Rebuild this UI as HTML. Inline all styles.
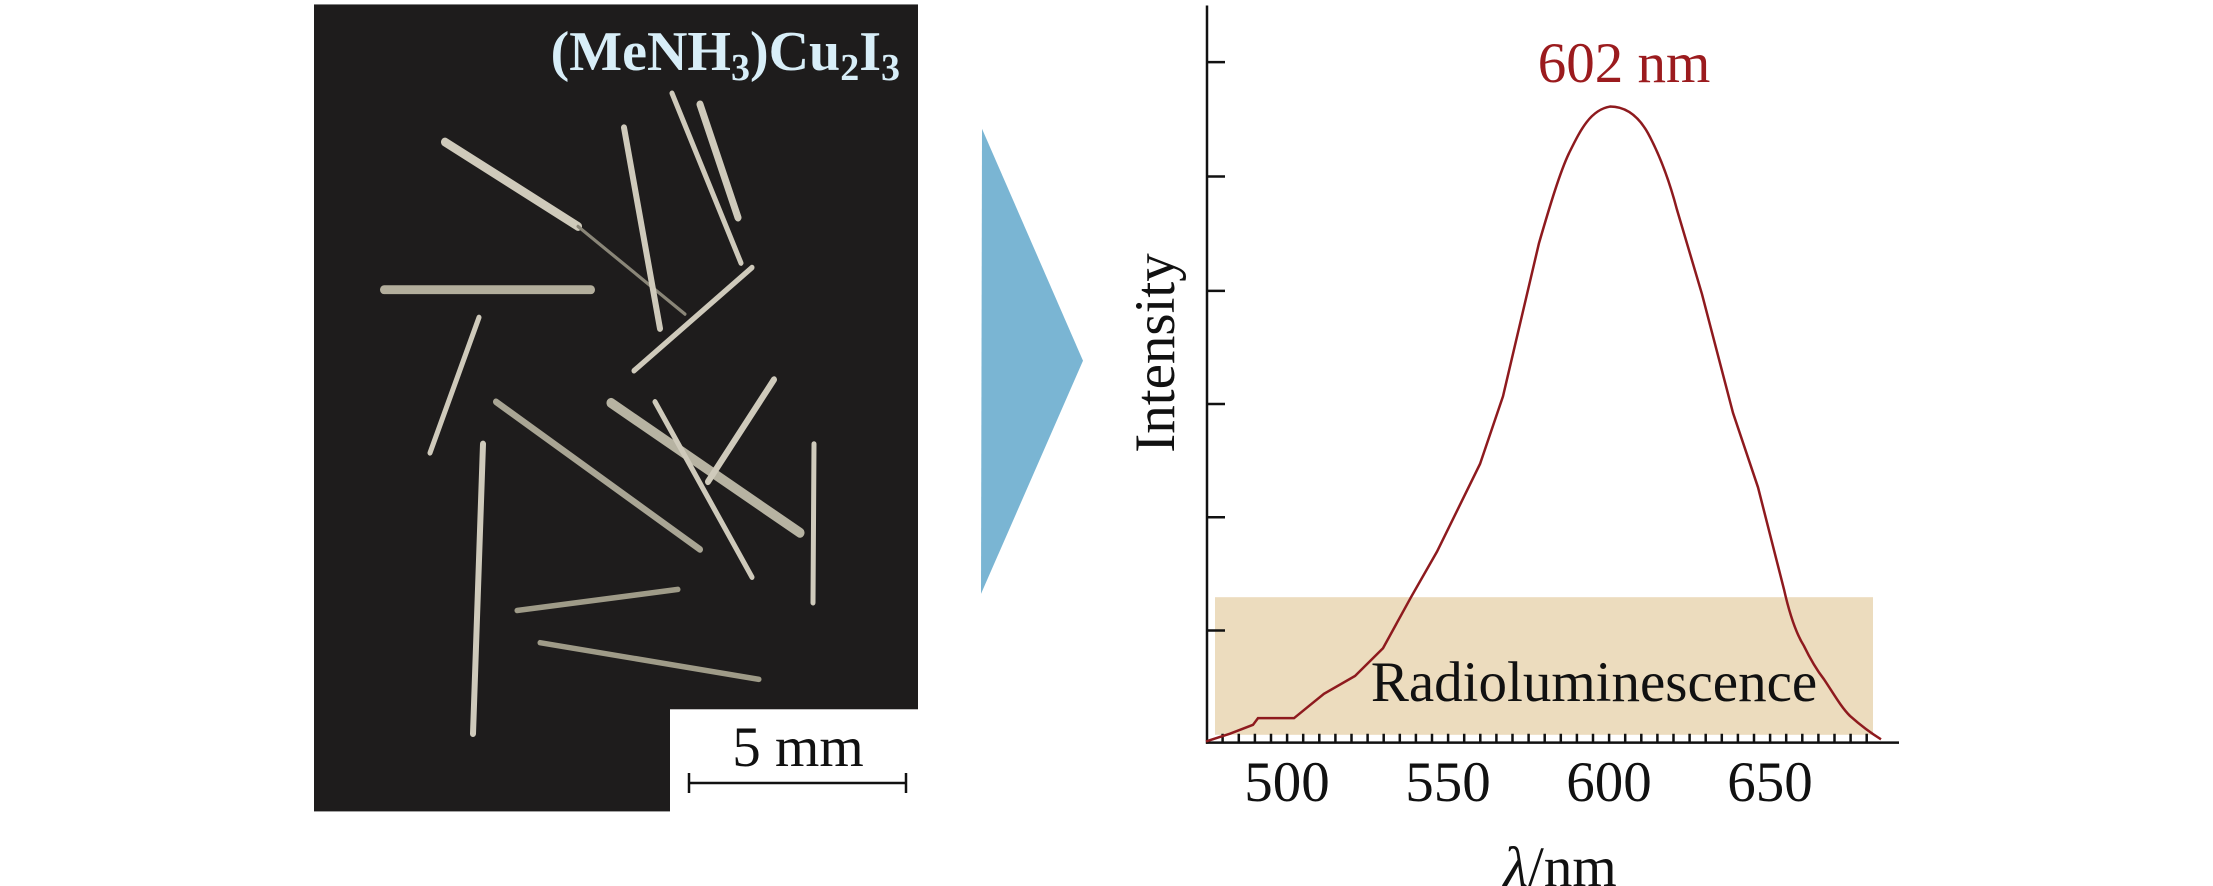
<!DOCTYPE html>
<html><head><meta charset="utf-8"><style>
html,body{margin:0;padding:0;background:#fff;}
svg{display:block;}
</style></head><body>
<svg width="2213" height="886" viewBox="0 0 2213 886" xmlns="http://www.w3.org/2000/svg">
<g transform="scale(1,1.11)">
<rect x="314" y="4" width="604" height="727" fill="#1e1c1c"/>
<rect x="670" y="639" width="250" height="94" fill="#fff"/>
<g stroke="#cfcabb" stroke-linecap="round">
<line x1="445" y1="128" x2="578" y2="204" stroke-width="8"/>
<line x1="578" y1="204" x2="685" y2="283" stroke-width="3" stroke="#8a8678"/>
<line x1="624" y1="115" x2="660" y2="296" stroke-width="6"/>
<line x1="672" y1="84" x2="741" y2="237" stroke-width="5"/>
<line x1="700" y1="94" x2="738" y2="196" stroke-width="7"/>
<line x1="384" y1="261" x2="591" y2="261" stroke-width="8" stroke="#b3ae9c"/>
<line x1="752" y1="241" x2="634" y2="334" stroke-width="5"/>
<line x1="479" y1="286" x2="430" y2="408" stroke-width="5"/>
<line x1="496" y1="362" x2="700" y2="495" stroke-width="6" stroke="#a9a594"/>
<line x1="611" y1="363" x2="800" y2="480" stroke-width="9" stroke="#b7b3a2"/>
<line x1="655" y1="362" x2="752" y2="520" stroke-width="5"/>
<line x1="774" y1="342" x2="708" y2="434" stroke-width="6"/>
<line x1="814" y1="400" x2="813" y2="543" stroke-width="5"/>
<line x1="483" y1="400" x2="473" y2="661" stroke-width="6"/>
<line x1="517" y1="550" x2="678" y2="531" stroke-width="5" stroke="#9f9b88"/>
<line x1="540" y1="579" x2="759" y2="612" stroke-width="5" stroke="#9f9b88"/>
</g>
<polygon points="982,116 1083,325 981,535" fill="#7ab5d3"/>
<rect x="1215" y="538" width="658" height="124" fill="#ecdcbe"/>
<g stroke="#111" stroke-width="2.5" fill="none">
<line x1="1207" y1="5" x2="1207" y2="670" vector-effect="non-scaling-stroke"/>
<line x1="1206" y1="669" x2="1899" y2="669" vector-effect="non-scaling-stroke"/>
<path vector-effect="non-scaling-stroke" d="M1207 56h18M1207 159h18M1207 262h18M1207 364h18M1207 466h18M1207 568h18"/>
<path vector-effect="non-scaling-stroke" d="M1222.6 669v-8M1238.8 669v-8M1254.9 669v-8M1271 669v-8M1287.1 669v-8M1303.2 669v-8M1319.3 669v-8M1335.4 669v-8M1351.5 669v-8M1367.6 669v-8M1383.7 669v-8M1399.8 669v-8M1415.9 669v-8M1432 669v-8M1448.1 669v-8M1464.2 669v-8M1480.3 669v-8M1496.4 669v-8M1512.5 669v-8M1528.6 669v-8M1544.7 669v-8M1560.8 669v-8M1576.9 669v-8M1593 669v-8M1609.1 669v-8M1625.2 669v-8M1641.3 669v-8M1657.4 669v-8M1673.5 669v-8M1689.6 669v-8M1705.7 669v-8M1721.8 669v-8M1737.9 669v-8M1754 669v-8M1770.1 669v-8M1786.2 669v-8M1802.3 669v-8M1818.4 669v-8M1834.5 669v-8M1850.6 669v-8M1866.7 669v-8"/>
</g>
<path vector-effect="non-scaling-stroke" d="M1206 668 L1230 661 L1253 653 L1258 647 L1294 647 L1309 636 L1324 625 L1355 609 L1383 584 L1411 538 L1437 497 L1480 418 L1503 357 L1539 219 C1550 185 1560 155 1569 138 C1580 118 1590 99 1610 96 C1625 96 1638 104 1648 120 C1660 140 1670 165 1677 189 L1702 265 L1733 372 L1758 439 L1784 531 C1790 555 1797 572 1804 582 C1811 595 1818 605 1824 612 C1833 624 1841 637 1850 645 C1860 653 1870 660 1881 666" fill="none" stroke="#8e1a1e" stroke-width="2.5"/>
</g>
<text x="900" y="70" text-anchor="end" font-family="Liberation Serif, serif" font-weight="bold" font-size="56" fill="#d8eef8">(MeNH<tspan font-size="38" dy="10">3</tspan><tspan dy="-10">)Cu</tspan><tspan font-size="38" dy="10">2</tspan><tspan dy="-10">I</tspan><tspan font-size="38" dy="10">3</tspan></text>
<text x="798" y="766" text-anchor="middle" font-family="Liberation Serif, serif" font-size="57" fill="#111">5 mm</text>
<g stroke="#111" stroke-width="2.5"><line x1="689" y1="783" x2="906" y2="783"/><line x1="689" y1="773" x2="689" y2="793"/><line x1="906" y1="773" x2="906" y2="793"/></g>
<g font-family="Liberation Serif, serif" font-size="57" fill="#111" text-anchor="middle">
<text x="1287" y="801">500</text><text x="1448" y="801">550</text><text x="1609" y="801">600</text><text x="1770" y="801">650</text>
<text x="1594" y="701">Radioluminescence</text>
<text x="1624" y="82" fill="#9b1b1e">602 nm</text>
<text transform="translate(1174,353) rotate(-90)">Intensity</text>
<text x="1560" y="886"><tspan font-style="italic">λ</tspan>/nm</text>
</g>
</svg>
</body></html>
